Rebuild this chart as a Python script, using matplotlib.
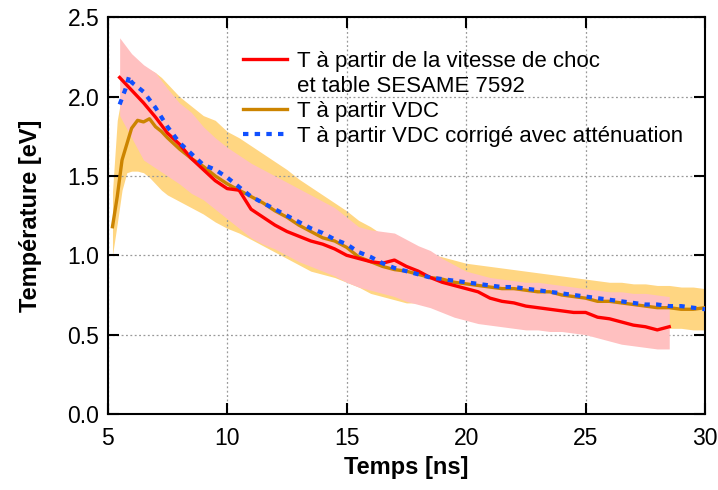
import numpy as np
import matplotlib
matplotlib.use("Agg")
import matplotlib.pyplot as plt

plt.rcParams['font.family'] = ['Liberation Sans', 'DejaVu Sans']

# T from shock velocity + SESAME 7592 (red) and its uncertainty band
t_red = [5.5, 6.0, 6.5, 7.0, 7.5, 8.0, 8.5, 9.0, 9.5, 10.0, 10.5, 11.0, 11.5, 12.0,
         12.5, 13.0, 13.5, 14.0, 14.5, 15.0, 15.5, 16.0, 16.5, 17.0, 17.5, 18.0,
         18.5, 19.0, 19.5, 20.0, 20.5, 21.0, 21.5, 22.0, 22.5, 23.0, 23.5, 24.0,
         24.5, 25.0, 25.5, 26.0, 26.5, 27.0, 27.5, 28.0, 28.5]
T_red = [2.12, 2.04, 1.96, 1.87, 1.77, 1.70, 1.61, 1.54, 1.47, 1.42, 1.41, 1.29, 1.24, 1.19,
         1.15, 1.12, 1.09, 1.07, 1.04, 1.00, 0.98, 0.96, 0.95, 0.97, 0.93, 0.90,
         0.86, 0.83, 0.81, 0.79, 0.77, 0.73, 0.71, 0.70, 0.68, 0.67, 0.66, 0.65,
         0.64, 0.64, 0.61, 0.60, 0.58, 0.56, 0.55, 0.53, 0.55]
T_red_hi = [2.37, 2.27, 2.20, 2.15, 2.05, 1.96, 1.90, 1.81, 1.74, 1.68, 1.63, 1.58, 1.54, 1.50,
            1.46, 1.42, 1.38, 1.34, 1.30, 1.24, 1.18, 1.16, 1.15, 1.14, 1.10, 1.06,
            1.03, 0.98, 0.94, 0.90, 0.88, 0.86, 0.85, 0.84, 0.83, 0.83, 0.82, 0.81,
            0.80, 0.79, 0.78, 0.77, 0.77, 0.76, 0.76, 0.75, 0.74]
T_red_lo = [1.88, 1.74, 1.60, 1.55, 1.50, 1.45, 1.39, 1.35, 1.29, 1.23, 1.17, 1.11, 1.07, 1.04,
            1.00, 0.96, 0.93, 0.90, 0.87, 0.83, 0.80, 0.78, 0.76, 0.74, 0.71, 0.69,
            0.67, 0.64, 0.61, 0.59, 0.57, 0.56, 0.55, 0.54, 0.53, 0.53, 0.52, 0.52,
            0.51, 0.50, 0.48, 0.46, 0.44, 0.43, 0.42, 0.41, 0.41]

# T from VDC (brown) and its band
t_vdc = [5.2, 5.4, 5.6, 5.8, 6.0, 6.25, 6.5, 6.75, 7.0, 7.25, 7.5, 8.0, 8.5, 9.0, 9.5,
         10.0, 10.5, 11.0, 11.5, 12.0, 12.5, 13.0, 13.5, 14.0, 14.5, 15.0, 15.5,
         16.0, 16.5, 17.0, 17.5, 18.0, 18.5, 19.0, 19.5, 20.0, 20.5, 21.0, 21.5,
         22.0, 22.5, 23.0, 23.5, 24.0, 24.5, 25.0, 25.5, 26.0, 26.5, 27.0, 27.5,
         28.0, 28.5, 29.0, 29.5, 30.0]
T_vdc = [1.18, 1.37, 1.60, 1.70, 1.80, 1.85, 1.84, 1.86, 1.81, 1.78, 1.74, 1.67, 1.61, 1.56, 1.50,
         1.45, 1.41, 1.37, 1.33, 1.28, 1.24, 1.19, 1.15, 1.11, 1.09, 1.05, 0.99,
         0.96, 0.93, 0.91, 0.90, 0.88, 0.86, 0.85, 0.83, 0.82, 0.81, 0.80, 0.79,
         0.79, 0.78, 0.77, 0.77, 0.75, 0.74, 0.73, 0.71, 0.71, 0.70, 0.69, 0.68,
         0.67, 0.67, 0.66, 0.66, 0.67]
T_vdc_hi = [1.40, 1.85, 2.02, 2.10, 2.15, 2.17, 2.18, 2.17, 2.15, 2.12, 2.08, 2.00, 1.94, 1.88, 1.85,
            1.78, 1.74, 1.69, 1.64, 1.59, 1.54, 1.48, 1.43, 1.38, 1.33, 1.28, 1.22,
            1.18, 1.13, 1.10, 1.06, 1.03, 1.01, 0.99, 0.97, 0.95, 0.94, 0.93, 0.92,
            0.91, 0.90, 0.89, 0.88, 0.87, 0.86, 0.85, 0.84, 0.83, 0.83, 0.82, 0.82,
            0.81, 0.81, 0.80, 0.80, 0.79]
T_vdc_lo = [1.00, 1.20, 1.41, 1.52, 1.53, 1.53, 1.52, 1.49, 1.45, 1.41, 1.38, 1.34, 1.30, 1.26, 1.21,
            1.17, 1.14, 1.10, 1.06, 1.02, 0.98, 0.94, 0.90, 0.88, 0.86, 0.83, 0.80,
            0.76, 0.74, 0.72, 0.70, 0.70, 0.68, 0.66, 0.65, 0.64, 0.63, 0.62, 0.62,
            0.61, 0.61, 0.60, 0.60, 0.59, 0.59, 0.58, 0.58, 0.57, 0.57, 0.56, 0.56,
            0.55, 0.54, 0.54, 0.53, 0.53]

# T from VDC corrected with attenuation (blue dotted)
t_cor = [5.5, 5.75, 5.9, 6.0, 6.25, 6.5, 7.0, 7.5, 8.0, 8.5, 9.0, 9.5, 10.0, 10.5, 11.0,
         11.5, 12.0, 12.5, 13.0, 13.5, 14.0, 14.5, 15.0, 15.5, 16.0, 16.5, 17.0,
         17.5, 18.0, 18.5, 19.0, 19.5, 20.0, 20.5, 21.0, 21.5, 22.0, 22.5, 23.0,
         23.5, 24.0, 24.5, 25.0, 25.5, 26.0, 26.5, 27.0, 27.5, 28.0, 28.5, 29.0,
         29.5, 30.0]
T_cor = [1.95, 2.05, 2.13, 2.09, 2.06, 2.03, 1.93, 1.81, 1.71, 1.64, 1.57, 1.54, 1.49, 1.43, 1.37,
         1.33, 1.29, 1.25, 1.21, 1.17, 1.14, 1.10, 1.07, 1.02, 0.99, 0.95, 0.92,
         0.90, 0.88, 0.86, 0.85, 0.84, 0.83, 0.82, 0.81, 0.80, 0.80, 0.79, 0.78,
         0.77, 0.76, 0.75, 0.74, 0.73, 0.72, 0.71, 0.70, 0.69, 0.69, 0.68, 0.68,
         0.67, 0.66]

fig = plt.figure(figsize=(7.18, 4.90), dpi=100)
ax = fig.add_axes([0.150, 0.155, 0.832, 0.810])

ax.fill_between(t_vdc, T_vdc_lo, T_vdc_hi, color='#ffd682', lw=0, zorder=1)
ax.fill_between(t_red, T_red_lo, T_red_hi, color='#ffc0c0', lw=0, zorder=2)

ax.plot(t_red, T_red, color='#ff0000', lw=2.4, zorder=5,
        label='T à partir de la vitesse de choc')
# second line of the red label, no handle
ax.plot([], [], color='none', label='et table SESAME 7592')
ax.plot(t_vdc, T_vdc, color='#cc8400', lw=2.4, zorder=4, label='T à partir VDC')
ax.plot(t_cor, T_cor, color='#1050ff', lw=3, ls=(0, (1.3, 1.5)),
        dash_capstyle='butt', zorder=6,
        label='T à partir VDC corrigé avec atténuation')

ax.set_xlim(5, 30)
ax.set_ylim(0, 2.5)
ax.set_xticks([5, 10, 15, 20, 25, 30])
ax.set_yticks([0.0, 0.5, 1.0, 1.5, 2.0, 2.5])
ax.yaxis.set_major_formatter(matplotlib.ticker.FormatStrFormatter('%.1f'))
ax.grid(True, color='#999999', ls=(0, (1.5, 2)), lw=0.9)
ax.tick_params(direction='in', length=8, width=1.5, labelsize=16.5,
               top=True, right=True)
ax.tick_params(axis='x', pad=9)
ax.tick_params(axis='y', pad=6)
for s in ax.spines.values():
    s.set_linewidth(1.5)

ax.set_xlabel('Temps [ns]', fontsize=17, fontweight='bold', labelpad=5)
ax.set_ylabel('Température [eV]', fontsize=17, fontweight='bold', labelpad=18)

leg = ax.legend(loc='upper left', bbox_to_anchor=(0.226, 0.915), frameon=False,
                fontsize=16, handlelength=2.0, handletextpad=0.45,
                labelspacing=0.18, borderaxespad=0, borderpad=0)

fig.savefig('out.png', dpi=100)
